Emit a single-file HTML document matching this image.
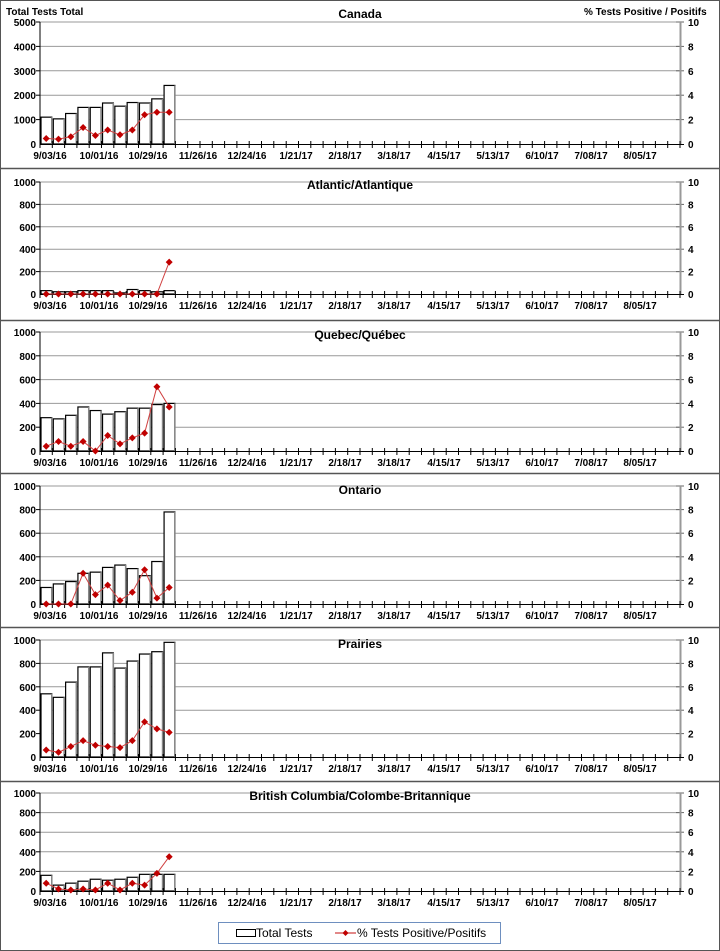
<!DOCTYPE html>
<html><head><meta charset="utf-8"><style>
body{margin:0;background:#fff}
svg{display:block;font-family:"Liberation Sans",Arial,sans-serif}
.yl{font-size:10px;font-weight:bold;text-anchor:end}
.yr{font-size:10px;font-weight:bold}
.xl{font-size:10px;font-weight:bold;text-anchor:middle}
.t{font-size:12px;font-weight:bold;text-anchor:middle}
</style></head><body>
<svg id="s" width="720" height="951" viewBox="0 0 720 951" xmlns="http://www.w3.org/2000/svg">
<rect x="0.5" y="0.5" width="719" height="950" fill="#fff" stroke="#555"/>
<g stroke="#555" stroke-width="1.5">
<line x1="0" y1="168.5" x2="720" y2="168.5"/><line x1="0" y1="320.5" x2="720" y2="320.5"/>
<line x1="0" y1="473.5" x2="720" y2="473.5"/><line x1="0" y1="627.5" x2="720" y2="627.5"/>
<line x1="0" y1="781.5" x2="720" y2="781.5"/>
</g>
<g id="shapes"></g>
<text x="6" y="15" style="font-size:10px;font-weight:bold">Total Tests  Total</text>
<text x="584" y="15" style="font-size:10px;font-weight:bold">% Tests  Positive  / Positifs</text>
<text class="t" x="360" y="18">Canada</text>
<text class="t" x="360" y="189">Atlantic/Atlantique</text>
<text class="t" x="360" y="339">Quebec/Québec</text>
<text class="t" x="360" y="494">Ontario</text>
<text class="t" x="360" y="648">Prairies</text>
<text class="t" x="360" y="800">British Columbia/Colombe-Britannique</text>

<g transform="translate(0,144)">
<text class="yl" x="36" y="4">0</text><text class="yl" x="36" y="-20.4">1000</text><text class="yl" x="36" y="-44.8">2000</text><text class="yl" x="36" y="-69.2">3000</text><text class="yl" x="36" y="-93.6">4000</text><text class="yl" x="36" y="-118">5000</text>
<text class="yr" x="688" y="4">0</text><text class="yr" x="688" y="-20.4">2</text><text class="yr" x="688" y="-44.8">4</text><text class="yr" x="688" y="-69.2">6</text><text class="yr" x="688" y="-93.6">8</text><text class="yr" x="688" y="-118">10</text>
<text class="xl" x="50" y="15">9/03/16</text><text class="xl" x="99" y="15">10/01/16</text><text class="xl" x="148" y="15">10/29/16</text><text class="xl" x="198" y="15">11/26/16</text><text class="xl" x="247" y="15">12/24/16</text><text class="xl" x="296" y="15">1/21/17</text><text class="xl" x="345" y="15">2/18/17</text><text class="xl" x="394" y="15">3/18/17</text><text class="xl" x="444" y="15">4/15/17</text><text class="xl" x="493" y="15">5/13/17</text><text class="xl" x="542" y="15">6/10/17</text><text class="xl" x="591" y="15">7/08/17</text><text class="xl" x="640" y="15">8/05/17</text>
</g>
<g transform="translate(0,294)">
<text class="yl" x="36" y="4">0</text><text class="yl" x="36" y="-18.4">200</text><text class="yl" x="36" y="-40.8">400</text><text class="yl" x="36" y="-63.2">600</text><text class="yl" x="36" y="-85.6">800</text><text class="yl" x="36" y="-108">1000</text>
<text class="yr" x="688" y="4">0</text><text class="yr" x="688" y="-18.4">2</text><text class="yr" x="688" y="-40.8">4</text><text class="yr" x="688" y="-63.2">6</text><text class="yr" x="688" y="-85.6">8</text><text class="yr" x="688" y="-108">10</text>
<text class="xl" x="50" y="15">9/03/16</text><text class="xl" x="99" y="15">10/01/16</text><text class="xl" x="148" y="15">10/29/16</text><text class="xl" x="198" y="15">11/26/16</text><text class="xl" x="247" y="15">12/24/16</text><text class="xl" x="296" y="15">1/21/17</text><text class="xl" x="345" y="15">2/18/17</text><text class="xl" x="394" y="15">3/18/17</text><text class="xl" x="444" y="15">4/15/17</text><text class="xl" x="493" y="15">5/13/17</text><text class="xl" x="542" y="15">6/10/17</text><text class="xl" x="591" y="15">7/08/17</text><text class="xl" x="640" y="15">8/05/17</text>
</g>
<g transform="translate(0,451)">
<text class="yl" x="36" y="4">0</text><text class="yl" x="36" y="-19.8">200</text><text class="yl" x="36" y="-43.6">400</text><text class="yl" x="36" y="-67.4">600</text><text class="yl" x="36" y="-91.2">800</text><text class="yl" x="36" y="-115">1000</text>
<text class="yr" x="688" y="4">0</text><text class="yr" x="688" y="-19.8">2</text><text class="yr" x="688" y="-43.6">4</text><text class="yr" x="688" y="-67.4">6</text><text class="yr" x="688" y="-91.2">8</text><text class="yr" x="688" y="-115">10</text>
<text class="xl" x="50" y="15">9/03/16</text><text class="xl" x="99" y="15">10/01/16</text><text class="xl" x="148" y="15">10/29/16</text><text class="xl" x="198" y="15">11/26/16</text><text class="xl" x="247" y="15">12/24/16</text><text class="xl" x="296" y="15">1/21/17</text><text class="xl" x="345" y="15">2/18/17</text><text class="xl" x="394" y="15">3/18/17</text><text class="xl" x="444" y="15">4/15/17</text><text class="xl" x="493" y="15">5/13/17</text><text class="xl" x="542" y="15">6/10/17</text><text class="xl" x="591" y="15">7/08/17</text><text class="xl" x="640" y="15">8/05/17</text>
</g>
<g transform="translate(0,604)">
<text class="yl" x="36" y="4">0</text><text class="yl" x="36" y="-19.6">200</text><text class="yl" x="36" y="-43.2">400</text><text class="yl" x="36" y="-66.8">600</text><text class="yl" x="36" y="-90.4">800</text><text class="yl" x="36" y="-114">1000</text>
<text class="yr" x="688" y="4">0</text><text class="yr" x="688" y="-19.6">2</text><text class="yr" x="688" y="-43.2">4</text><text class="yr" x="688" y="-66.8">6</text><text class="yr" x="688" y="-90.4">8</text><text class="yr" x="688" y="-114">10</text>
<text class="xl" x="50" y="15">9/03/16</text><text class="xl" x="99" y="15">10/01/16</text><text class="xl" x="148" y="15">10/29/16</text><text class="xl" x="198" y="15">11/26/16</text><text class="xl" x="247" y="15">12/24/16</text><text class="xl" x="296" y="15">1/21/17</text><text class="xl" x="345" y="15">2/18/17</text><text class="xl" x="394" y="15">3/18/17</text><text class="xl" x="444" y="15">4/15/17</text><text class="xl" x="493" y="15">5/13/17</text><text class="xl" x="542" y="15">6/10/17</text><text class="xl" x="591" y="15">7/08/17</text><text class="xl" x="640" y="15">8/05/17</text>
</g>
<g transform="translate(0,757)">
<text class="yl" x="36" y="4">0</text><text class="yl" x="36" y="-19.4">200</text><text class="yl" x="36" y="-42.8">400</text><text class="yl" x="36" y="-66.2">600</text><text class="yl" x="36" y="-89.6">800</text><text class="yl" x="36" y="-113">1000</text>
<text class="yr" x="688" y="4">0</text><text class="yr" x="688" y="-19.4">2</text><text class="yr" x="688" y="-42.8">4</text><text class="yr" x="688" y="-66.2">6</text><text class="yr" x="688" y="-89.6">8</text><text class="yr" x="688" y="-113">10</text>
<text class="xl" x="50" y="15">9/03/16</text><text class="xl" x="99" y="15">10/01/16</text><text class="xl" x="148" y="15">10/29/16</text><text class="xl" x="198" y="15">11/26/16</text><text class="xl" x="247" y="15">12/24/16</text><text class="xl" x="296" y="15">1/21/17</text><text class="xl" x="345" y="15">2/18/17</text><text class="xl" x="394" y="15">3/18/17</text><text class="xl" x="444" y="15">4/15/17</text><text class="xl" x="493" y="15">5/13/17</text><text class="xl" x="542" y="15">6/10/17</text><text class="xl" x="591" y="15">7/08/17</text><text class="xl" x="640" y="15">8/05/17</text>
</g>
<g transform="translate(0,891)">
<text class="yl" x="36" y="4">0</text><text class="yl" x="36" y="-15.6">200</text><text class="yl" x="36" y="-35.2">400</text><text class="yl" x="36" y="-54.8">600</text><text class="yl" x="36" y="-74.4">800</text><text class="yl" x="36" y="-94">1000</text>
<text class="yr" x="688" y="4">0</text><text class="yr" x="688" y="-15.6">2</text><text class="yr" x="688" y="-35.2">4</text><text class="yr" x="688" y="-54.8">6</text><text class="yr" x="688" y="-74.4">8</text><text class="yr" x="688" y="-94">10</text>
<text class="xl" x="50" y="15">9/03/16</text><text class="xl" x="99" y="15">10/01/16</text><text class="xl" x="148" y="15">10/29/16</text><text class="xl" x="198" y="15">11/26/16</text><text class="xl" x="247" y="15">12/24/16</text><text class="xl" x="296" y="15">1/21/17</text><text class="xl" x="345" y="15">2/18/17</text><text class="xl" x="394" y="15">3/18/17</text><text class="xl" x="444" y="15">4/15/17</text><text class="xl" x="493" y="15">5/13/17</text><text class="xl" x="542" y="15">6/10/17</text><text class="xl" x="591" y="15">7/08/17</text><text class="xl" x="640" y="15">8/05/17</text>
</g>

<rect x="218.5" y="922.5" width="282" height="21" fill="#fff" stroke="#6e8fbf"/>
<rect x="236.5" y="929.5" width="19" height="7" fill="#fff" stroke="#000"/>
<text x="256" y="937" style="font-size:12px">Total Tests</text>
<line x1="335" y1="933" x2="356" y2="933" stroke="#d04040" stroke-width="1.2"/>
<path d="M345.5 930 L348.5 933 L345.5 936 L342.5 933Z" fill="#c00000"/>
<text x="357" y="937" style="font-size:12px">% Tests Positive/Positifs</text>
</svg>
<script>
var P=[
{T:22,B:144,max:5000,b:[1100,1030,1250,1500,1500,1680,1550,1700,1680,1850,2400],l:[0.45,0.4,0.6,1.35,0.7,1.15,0.75,1.15,2.4,2.6,2.6]},
{T:182,B:294,max:1000,b:[30,20,20,30,30,30,10,40,30,20,30],l:[0,0,0,0,0,0,0,0,0,0,2.85]},
{T:332,B:451,max:1000,b:[280,270,300,370,340,310,330,360,360,390,400],l:[0.4,0.8,0.4,0.8,0,1.3,0.6,1.1,1.5,5.4,3.7]},
{T:486,B:604,max:1000,b:[140,170,190,260,270,310,330,300,240,360,780],l:[0,0,0,2.6,0.8,1.6,0.3,1.0,2.9,0.5,1.4]},
{T:640,B:757,max:1000,b:[540,510,640,770,770,890,760,820,880,900,980],l:[0.6,0.4,0.9,1.4,1.0,0.9,0.8,1.4,3.0,2.4,2.1]},
{T:793,B:891,max:1000,b:[160,60,80,100,120,110,120,140,170,170,170],l:[0.8,0.2,0.1,0.2,0.1,0.8,0.1,0.8,0.6,1.8,3.5]}];
var h='',W=640/52;
P.forEach(function(p){
 var H=p.B-p.T;
 for(var i=1;i<=5;i++){var y=(p.B-H*i/5).toFixed(1);h+='<line x1="40" x2="680" y1="'+y+'" y2="'+y+'" stroke="#999"/>';h+='<line x1="676" x2="684" y1="'+y+'" y2="'+y+'" stroke="#666"/><line x1="36" x2="40" y1="'+y+'" y2="'+y+'" stroke="#000"/>';}
 p.b.forEach(function(v,i){var x=40+W*i+0.5,hh=H*v/p.max;
  h+='<rect x="'+(x+0.5)+'" y="'+(p.B-hh)+'" width="'+(W-1.5)+'" height="'+hh+'" fill="#fff" stroke="#000" stroke-width="1.2"/>';
  h+='<line x1="'+(x+W-1)+'" x2="'+(x+W-1)+'" y1="'+(p.B-hh)+'" y2="'+p.B+'" stroke="#888" stroke-width="1.5"/>';});
 h+='<line x1="40" x2="40" y1="'+p.T+'" y2="'+p.B+'" stroke="#000"/>';
 h+='<line x1="680.5" x2="680.5" y1="'+p.T+'" y2="'+p.B+'" stroke="#999" stroke-width="2"/>';
 h+='<line x1="40" x2="684" y1="'+(p.B+0.5)+'" y2="'+(p.B+0.5)+'" stroke="#000"/>';
 for(var k=0;k<=52;k++){var x=(40+W*k).toFixed(1);h+='<line x1="'+x+'" x2="'+x+'" y1="'+(p.B-3)+'" y2="'+(p.B+4)+'" stroke="#000"/>';}
 var pts=p.l.map(function(v,i){return [(40+W*(i+0.5)).toFixed(1),(p.B-H*v/10).toFixed(1)];});
 h+='<polyline points="'+pts.map(function(q){return q.join(',')}).join(' ')+'" fill="none" stroke="#d04040" stroke-width="1"/>';
 pts.forEach(function(q){var x=+q[0],y=+q[1];h+='<path d="M'+x+' '+(y-3.5)+'L'+(x+3.5)+' '+y+'L'+x+' '+(y+3.5)+'L'+(x-3.5)+' '+y+'Z" fill="#c00000"/>';});
});
document.getElementById('shapes').innerHTML=h;
</script>
</body></html>
